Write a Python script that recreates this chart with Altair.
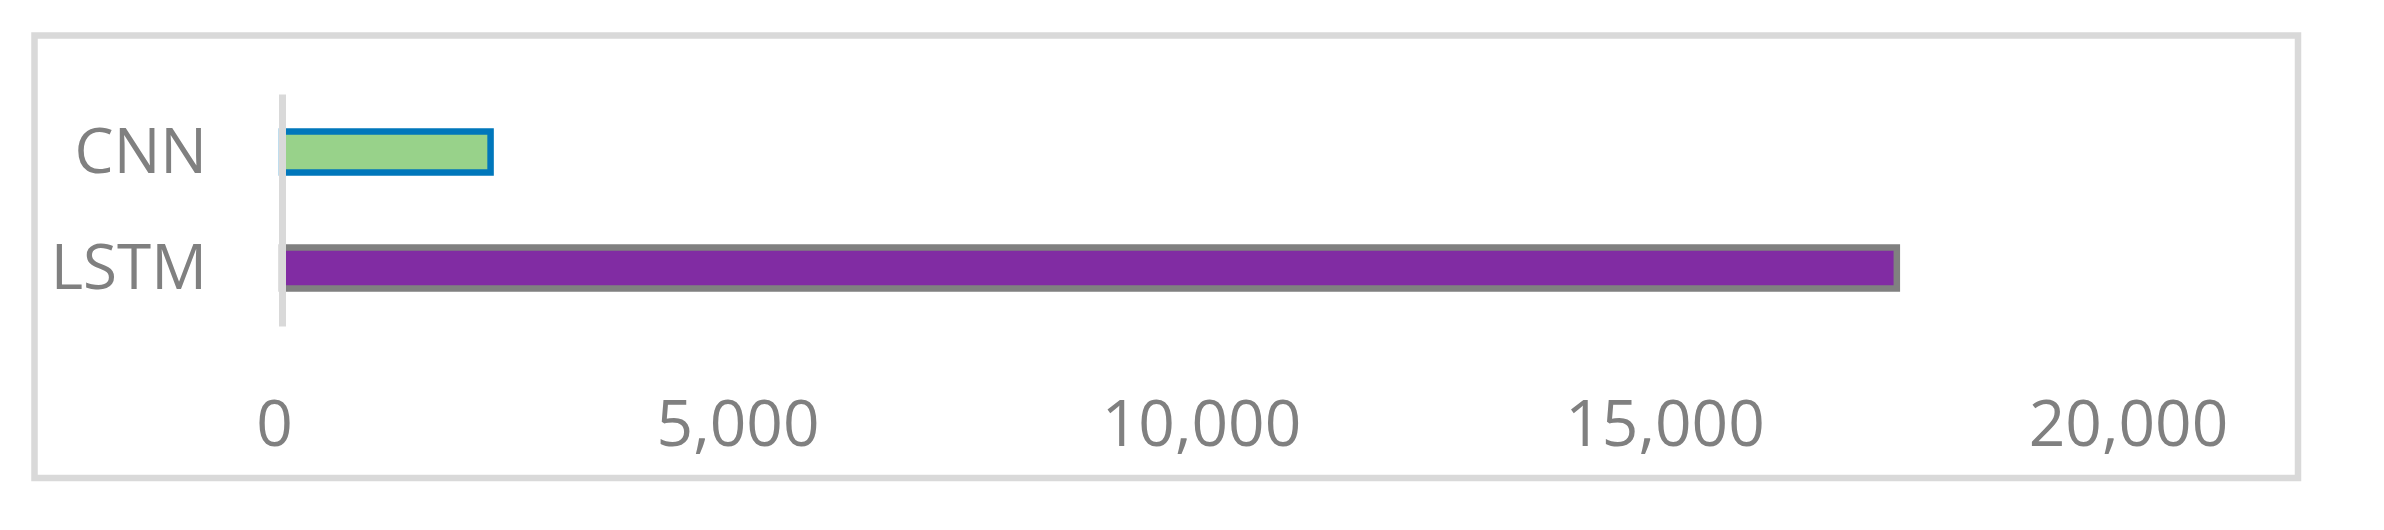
import altair as alt
import pandas as pd

models = ["CNN", "LSTM"]
values = [2250, 17420]
fills = ["#98D28A", "#812CA3"]
strokes = ["#0077BB", "#808080"]
x_ticks = [0, 5000, 10000, 15000, 20000]

df = pd.DataFrame({"model": models, "value": values})

FONT = "Open Sans"
GRAY = "#808080"
LIGHT = "#D9D9D9"
FS_X = 64
FS_Y = 62

y_enc = alt.Y(
    "model:N",
    sort=models,
    scale=alt.Scale(paddingInner=0, paddingOuter=0),
    axis=alt.Axis(
        title="",
        domain=True,
        domainColor=LIGHT,
        domainWidth=7,
        ticks=False,
        tickSize=0,
        labels=False,
        grid=False,
        zindex=1,
    ),
)

bars = alt.Chart(df).mark_bar(size=41, strokeWidth=6.5, strokeJoin="miter").encode(
    x=alt.X(
        "value:Q",
        scale=alt.Scale(domain=[0, 20000], nice=False),
        axis=alt.Axis(
            values=x_ticks,
            format=",.0f",
            title="",
            domain=False,
            ticks=False,
            tickSize=0,
            grid=False,
            labelFlush=False,
            labelOverlap=False,
            labelLimit=600,
            labelPadding=119,
            labelBaseline="alphabetic",
            labelOffset=-8,
            labelFont=FONT,
            labelFontSize=FS_X,
            labelColor=GRAY,
        ),
    ),
    y=y_enc,
    color=alt.Color("model:N", scale=alt.Scale(domain=models, range=fills), legend=None),
    stroke=alt.Stroke("model:N", scale=alt.Scale(domain=models, range=strokes), legend=None),
)

ylabels = alt.Chart(df).mark_text(
    align="right", baseline="alphabetic", dy=21, font=FONT, fontSize=FS_Y, color=GRAY
).encode(
    x=alt.value(-75),
    y=alt.Y("model:N", sort=models),
    text="model:N",
)

border = alt.Chart(pd.DataFrame({"b": [0]})).mark_rect(
    fill="transparent", stroke=LIGHT, strokeWidth=6.5
).encode(
    x=alt.value(-247.5),
    x2=alt.value(2016),
    y=alt.value(-58.5),
    y2=alt.value(384),
)

chart = (
    alt.layer(border, bars, ylabels)
    .properties(
        width=1854,
        height=232,
        autosize=alt.AutoSizeParams(type="none"),
        padding={"left": 274, "top": 86, "right": 200, "bottom": 170},
    )
    .configure_view(stroke="transparent")
)

chart.save("out.html", embed_options={"renderer": "svg", "actions": False})
